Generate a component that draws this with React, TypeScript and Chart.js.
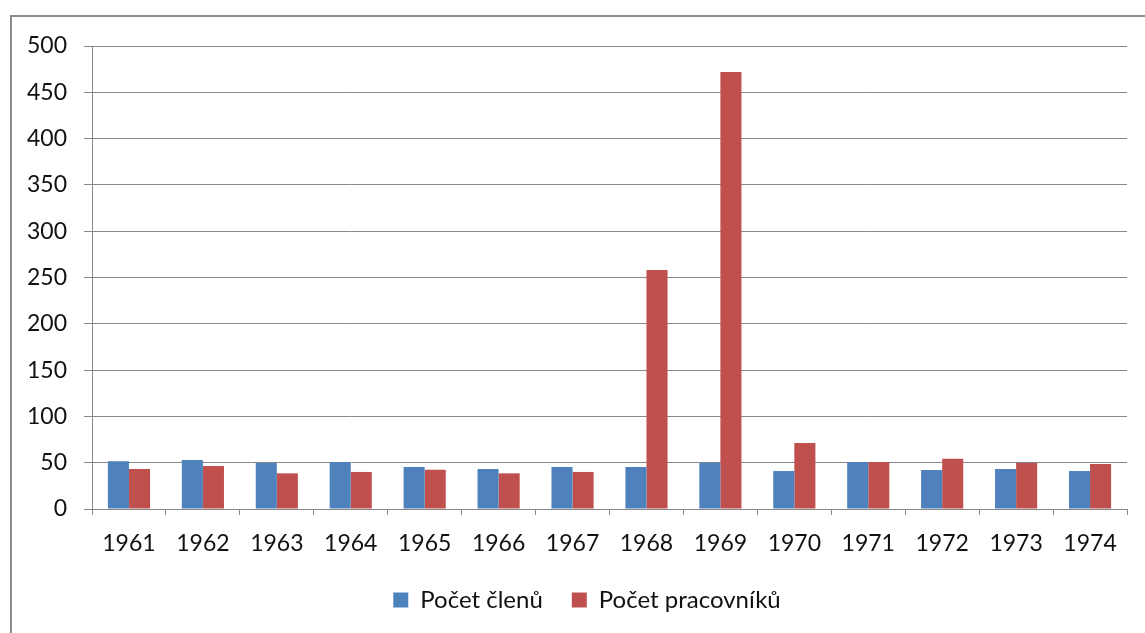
import React, { useEffect, useRef } from "react";
import { Chart, registerables } from "chart.js";

Chart.register(...registerables);

const categories = ["1961", "1962", "1963", "1964", "1965", "1966", "1967", "1968", "1969", "1970", "1971", "1972", "1973", "1974"];
const seriesNames = ["Počet členů", "Počet pracovníků"];
const clenove = [51.5, 53, 49.7, 50.8, 45.4, 43.2, 45.4, 45.4, 50, 41, 50.8, 42.1, 43.2, 41];
const pracovnici = [43.2, 46.4, 38.5, 40, 42.4, 38.5, 40, 258, 472, 71.3, 50.8, 54.3, 49.7, 48.6];
const yMin = 0;
const yMax = 500;
const yStep = 50;

const FONT = "Lato, 'Open Sans', sans-serif";
const GRID = "#878787";

const legendShift = {
  id: "legendShift",
  afterLayout(chart: any) {
    const lg = chart.legend;
    if (lg) {
      lg.left += 23.5;
      lg.right += 23.5;
    }
  },
};

export default function App() {
  const ref = useRef<HTMLCanvasElement | null>(null);
  useEffect(() => {
    if (!ref.current) return;
    const chart = new Chart(ref.current, {
      type: "bar",
      data: {
        labels: categories,
        datasets: [
          { label: seriesNames[0], data: clenove, backgroundColor: "#4F81BD", categoryPercentage: 0.57, barPercentage: 1 },
          { label: seriesNames[1], data: pracovnici, backgroundColor: "#C0504D", categoryPercentage: 0.57, barPercentage: 1 },
        ],
      },
      plugins: [legendShift],
      options: {
        animation: false,
        responsive: false,
        maintainAspectRatio: false,
        layout: { padding: { left: 0, top: 46, right: 18, bottom: 11 } },
        plugins: {
          tooltip: { enabled: false },
          legend: {
            position: "bottom",
            labels: {
              font: { family: FONT, size: 24 },
              color: "#111",
              boxWidth: 15,
              boxHeight: 15,
              padding: 29,
            },
          },
        },
        scales: {
          x: {
            afterFit: (s: any) => { s.height = 50; },
            grid: { display: true, drawOnChartArea: false, drawTicks: true, tickLength: 6, color: GRID, offset: true },
            border: { display: true, color: GRID, width: 1 },
            ticks: { font: { family: FONT, size: 23 }, color: "#111", padding: 15, maxRotation: 0 },
          },
          y: {
            min: yMin,
            max: yMax,
            afterFit: (s: any) => { s.width = 92; },
            grid: { color: GRID, tickLength: 8, lineWidth: 1 },
            border: { display: true, color: GRID, width: 1 },
            ticks: { stepSize: yStep, font: { family: FONT, size: 23 }, color: "#111", padding: 17 },
          },
        },
      },
    });
    return () => chart.destroy();
  }, []);
  return (
    <div style={{ position: "absolute", left: 0, top: 0, width: 1145, height: 633, overflow: "hidden", background: "#fff" }}>
      <div style={{ position: "absolute", left: 10, top: 15, width: 1300, height: 800, border: "2px solid #8c8c8c", boxSizing: "border-box" }} />
      <canvas ref={ref} width={1145} height={633} style={{ position: "absolute", left: 0, top: 0, width: 1145, height: 633 }} />
    </div>
  );
}
